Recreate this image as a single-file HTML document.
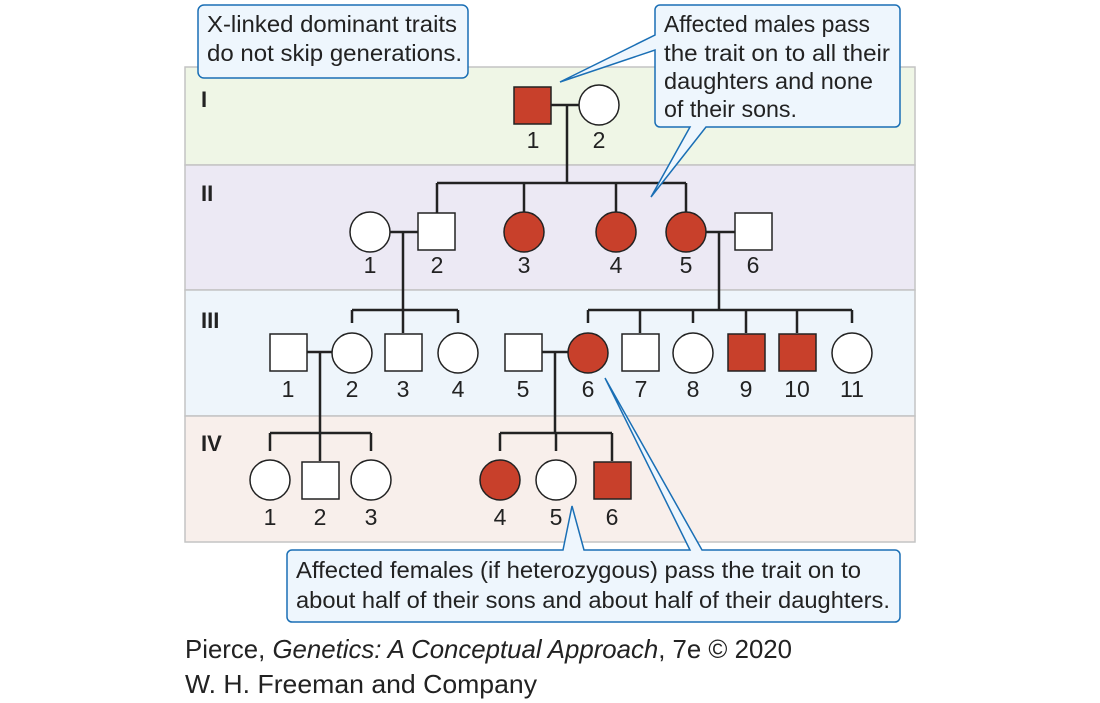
<!DOCTYPE html>
<html><head><meta charset="utf-8"><style>
html,body{margin:0;padding:0;background:#fff;}
svg{display:block;font-family:"Liberation Sans",sans-serif;}
</style></head><body>
<svg width="1100" height="703" viewBox="0 0 1100 703" xmlns="http://www.w3.org/2000/svg">
<rect x="185" y="67" width="730" height="98" fill="#eff6e6" stroke="#c4c4c4" stroke-width="1.5"/>
<rect x="185" y="165" width="730" height="125" fill="#ece9f4" stroke="#c4c4c4" stroke-width="1.5"/>
<rect x="185" y="290" width="730" height="126" fill="#eef5fb" stroke="#c4c4c4" stroke-width="1.5"/>
<rect x="185" y="416" width="730" height="126" fill="#f8efeb" stroke="#c4c4c4" stroke-width="1.5"/>
<g font-weight="bold" font-size="22" fill="#222">
<text x="201" y="107">I</text><text x="201" y="201">II</text><text x="201" y="328">III</text><text x="201" y="451">IV</text>
</g>
<g stroke="#222" stroke-width="2.5" fill="none">
<path d="M551 105H579M567 105V183M437 183H686M437 183V213M524 183V212M616 183V212M686 183V212"/>
<path d="M390 232H418M403 232V310M352 310H458M352 310V323M403 310V333M458 310V323"/>
<path d="M706 232H735M719 232V310M588 310H852M588 310V323M640 310V333M693 310V323M746 310V333M797 310V333M852 310V323"/>
<path d="M307 352H332M320 352V433M270 433H371M270 433V451M320 433V461M371 433V451"/>
<path d="M542 352H568M555 352V433M500 433H612M500 433V451M556 433V451M612 433V461"/>
</g>
<g stroke="#222" stroke-width="1.5">
<rect x="514" y="87" width="37" height="37" fill="#c8402b"/>
<circle cx="599" cy="105" r="20" fill="#fff"/>
<circle cx="370" cy="232" r="20" fill="#fff"/>
<rect x="418" y="213" width="37" height="37" fill="#fff"/>
<circle cx="524" cy="232" r="20" fill="#c8402b"/>
<circle cx="616" cy="232" r="20" fill="#c8402b"/>
<circle cx="686" cy="232" r="20" fill="#c8402b"/>
<rect x="735" y="213" width="37" height="37" fill="#fff"/>
<rect x="270" y="334" width="37" height="37" fill="#fff"/>
<circle cx="352" cy="353" r="20" fill="#fff"/>
<rect x="385" y="334" width="37" height="37" fill="#fff"/>
<circle cx="458" cy="353" r="20" fill="#fff"/>
<rect x="505" y="334" width="37" height="37" fill="#fff"/>
<circle cx="588" cy="353" r="20" fill="#c8402b"/>
<rect x="622" y="334" width="37" height="37" fill="#fff"/>
<circle cx="693" cy="353" r="20" fill="#fff"/>
<rect x="728" y="334" width="37" height="37" fill="#c8402b"/>
<rect x="779" y="334" width="37" height="37" fill="#c8402b"/>
<circle cx="852" cy="353" r="20" fill="#fff"/>
<circle cx="270" cy="480" r="20" fill="#fff"/>
<rect x="302" y="462" width="37" height="37" fill="#fff"/>
<circle cx="371" cy="480" r="20" fill="#fff"/>
<circle cx="500" cy="480" r="20" fill="#c8402b"/>
<circle cx="556" cy="480" r="20" fill="#fff"/>
<rect x="594" y="462" width="37" height="37" fill="#c8402b"/>
</g>
<g font-size="23" fill="#222" text-anchor="middle">
<text x="533" y="148">1</text><text x="599" y="148">2</text>
<text x="370" y="273">1</text><text x="437" y="273">2</text><text x="524" y="273">3</text><text x="616" y="273">4</text><text x="686" y="273">5</text><text x="753" y="273">6</text>
<text x="288" y="397">1</text><text x="352" y="397">2</text><text x="403" y="397">3</text><text x="458" y="397">4</text><text x="523" y="397">5</text><text x="588" y="397">6</text><text x="641" y="397">7</text><text x="693" y="397">8</text><text x="746" y="397">9</text><text x="797" y="397">10</text><text x="852" y="397">11</text>
<text x="270" y="525">1</text><text x="320" y="525">2</text><text x="371" y="525">3</text><text x="500" y="525">4</text><text x="556" y="525">5</text><text x="612" y="525">6</text>
</g>
<g stroke="#1a6fb5" stroke-width="1.5" fill="#eef6fd">
<rect x="198" y="5" width="270" height="73" rx="6"/>
<path d="M660 5H895a5 5 0 0 1 5 5V122a5 5 0 0 1-5 5H706L651 197L690 127H660a5 5 0 0 1-5-5V50L560 82L655 35V10a5 5 0 0 1 5-5Z"/>
<path d="M292 550H563L572 506L584 550H690L605 378L702 550H895a5 5 0 0 1 5 5V617a5 5 0 0 1-5 5H292a5 5 0 0 1-5-5V555a5 5 0 0 1 5-5Z"/>
</g>
<g font-size="23" fill="#222" lengthAdjust="spacingAndGlyphs">
<text x="207" y="32" textLength="250" lengthAdjust="spacingAndGlyphs">X-linked dominant traits</text>
<text x="207" y="61" textLength="255" lengthAdjust="spacingAndGlyphs">do not skip generations.</text>
<text x="664" y="32" textLength="206" lengthAdjust="spacingAndGlyphs">Affected males pass</text>
<text x="664" y="61" textLength="226" lengthAdjust="spacingAndGlyphs">the trait on to all their</text>
<text x="664" y="89" textLength="209" lengthAdjust="spacingAndGlyphs">daughters and none</text>
<text x="664" y="117" textLength="133" lengthAdjust="spacingAndGlyphs">of their sons.</text>
<text x="296" y="578" textLength="565" lengthAdjust="spacingAndGlyphs">Affected females (if heterozygous) pass the trait on to</text>
<text x="296" y="608" textLength="594" lengthAdjust="spacingAndGlyphs">about half of their sons and about half of their daughters.</text>
</g>
<g font-size="26" fill="#222">
<text x="185" y="658" textLength="607" lengthAdjust="spacingAndGlyphs">Pierce, <tspan font-style="italic">Genetics: A Conceptual Approach</tspan>, 7e © 2020</text>
<text x="185" y="693" textLength="352" lengthAdjust="spacingAndGlyphs">W. H. Freeman and Company</text>
</g>
</svg>
</body></html>
